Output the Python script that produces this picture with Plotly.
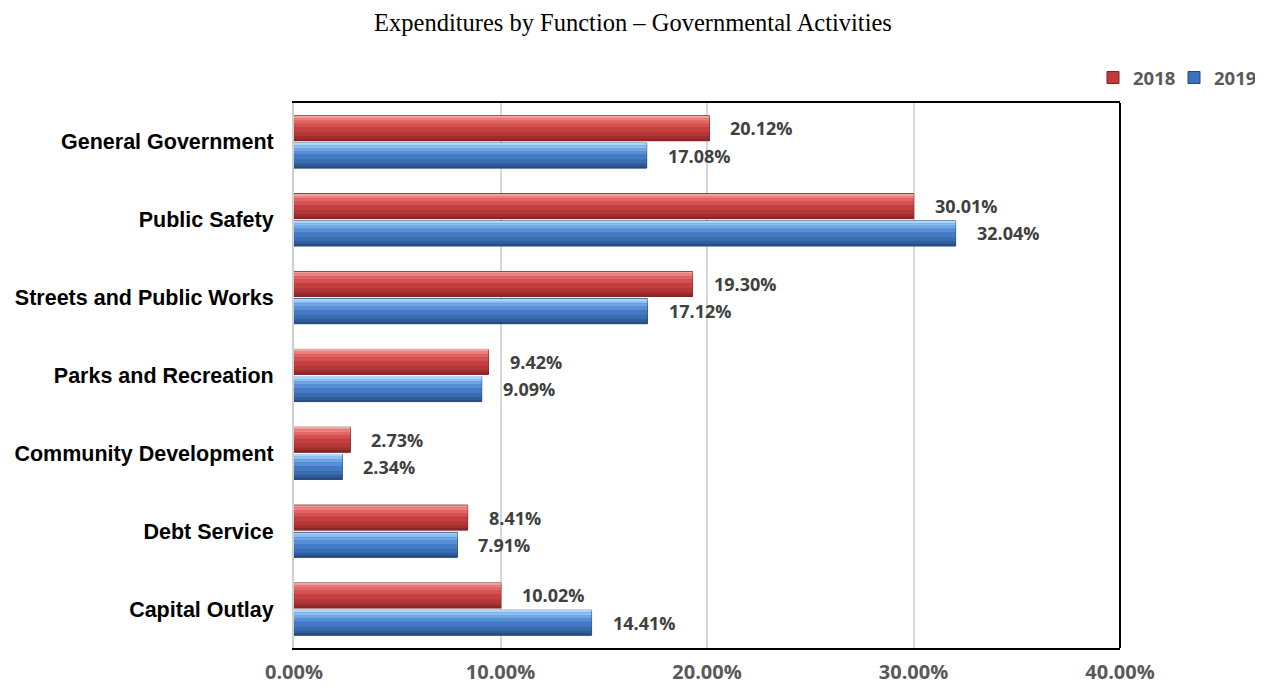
import plotly.graph_objects as go

# ---- data ----
categories = [
    "General Government",
    "Public Safety",
    "Streets and Public Works",
    "Parks and Recreation",
    "Community Development",
    "Debt Service",
    "Capital Outlay",
]
values_2018 = [20.12, 30.01, 19.30, 9.42, 2.73, 8.41, 10.02]
values_2019 = [17.08, 32.04, 17.12, 9.09, 2.34, 7.91, 14.41]
years = ["2018", "2019"]
x_tick_values = [0, 10, 20, 30, 40]
x_tick_labels = ["0.00%", "10.00%", "20.00%", "30.00%", "40.00%"]

# ---- styling ----
BAR_W = 0.32
GAP = 0.015
series_style = {
    "2018": {
        "offset": -GAP - BAR_W,
        "base": "#C13A3A",
        "edge": "#7E2222",
        # (fraction of bar thickness, colour) from top to bottom: gives a bevelled look
        "strips": [(0.08, "#F4A0A0"), (0.10, "#EE8080"), (0.12, "#E26666"),
                   (0.15, "#D35252"), (0.20, "#C44040"), (0.15, "#B43636"),
                   (0.10, "#A02E2E"), (0.10, "#882626")],
    },
    "2019": {
        "offset": GAP,
        "base": "#3C72BC",
        "edge": "#22467A",
        "strips": [(0.08, "#AED6FA"), (0.10, "#8CC0F2"), (0.12, "#6EA6E6"),
                   (0.15, "#588FD6"), (0.20, "#437AC4"), (0.15, "#3A6CB0"),
                   (0.10, "#305D9A"), (0.10, "#274E84")],
    },
}

fig = go.Figure()

for year, vals in zip(years, [values_2018, values_2019]):
    st = series_style[year]
    # solid bar carrying the legend entry
    fig.add_trace(go.Bar(
        name=year, y=categories, x=vals, orientation="h",
        offset=st["offset"], width=BAR_W,
        marker=dict(color=st["base"], line=dict(color=st["edge"], width=1)),
        hovertemplate="%{y}: %{x:.2f}%<extra>" + year + "</extra>",
    ))
    # shading strips over the same values
    acc = 0.0
    for frac, col in st["strips"]:
        fig.add_trace(go.Bar(
            y=categories, x=vals, orientation="h",
            offset=st["offset"] + acc * BAR_W + 0.004, width=frac * BAR_W,
            marker=dict(color=col, line=dict(width=0)),
            showlegend=False, hoverinfo="skip",
        ))
        acc += frac

# value labels
annotations = []
for i, cat in enumerate(categories):
    for year, vals in zip(years, [values_2018, values_2019]):
        st = series_style[year]
        yc = i + st["offset"] + BAR_W / 2
        annotations.append(dict(
            x=vals[i], y=yc, xref="x", yref="y",
            text=f"{vals[i]:.2f}%", showarrow=False,
            xanchor="left", yanchor="middle", xshift=19,
            font=dict(family="Open Sans", size=18, color="#404040", weight="bold"),
        ))

fig.update_layout(
    width=1266, height=686,
    autosize=False,
    barmode="overlay",
    paper_bgcolor="white", plot_bgcolor="white",
    margin=dict(l=294, r=146, t=103, b=38, autoexpand=False),
    title=dict(
        text="Expenditures by Function \u2013 Governmental Activities",
        x=0.5, xanchor="center", y=1 - 22 / 686, yanchor="middle",
        font=dict(family="Liberation Serif", size=24.5, color="black"),
    ),
    legend=dict(
        orientation="h", xref="container", yref="container",
        x=1255 / 1266, xanchor="right", y=1 - 78 / 686, yanchor="middle",
        font=dict(family="Open Sans", size=18.5, color="#595959", weight="bold"),
        entrywidth=36, entrywidthmode="pixels",
        itemwidth=30, tracegroupgap=0, bgcolor="rgba(0,0,0,0)",
    ),
    annotations=annotations,
    xaxis=dict(
        range=[0, 40], tickvals=x_tick_values, ticktext=x_tick_labels,
        showgrid=True, gridcolor="#D9D9D9", gridwidth=1.5,
        zeroline=False, automargin=False,
        showline=True, linecolor="black", linewidth=2, mirror=True,
        ticks="", ticklabelstandoff=5,
        tickfont=dict(family="Open Sans", size=20, color="#595959", weight="bold"),
    ),
    yaxis=dict(
        type="category", categoryorder="array", categoryarray=categories,
        range=[6.5, -0.5], automargin=False,
        showgrid=False, zeroline=False,
        showline=True, linecolor="#D0D0D0", linewidth=2,
        ticks="", ticklabelstandoff=14,
        tickfont=dict(family="Liberation Sans", size=21.5, color="black", weight="bold"),
    ),
    shapes=[
        dict(type="line", xref="paper", yref="paper", x0=1, x1=1, y0=0, y1=1,
             line=dict(color="black", width=2)),
    ],
)

fig.write_html("out.html")
